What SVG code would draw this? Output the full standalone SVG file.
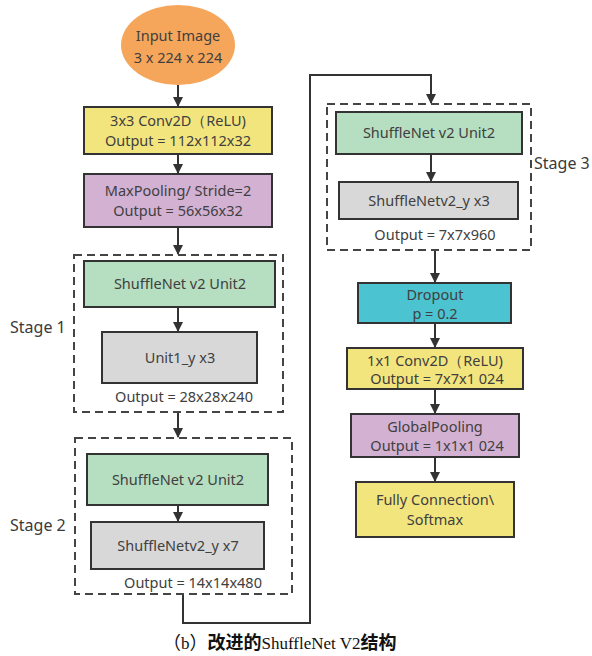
<svg xmlns="http://www.w3.org/2000/svg" width="592" height="656" viewBox="0 0 592 656">
<style>
.b{stroke:#333;stroke-width:2}
.t{font-family:"Noto Sans","Open Sans",sans-serif;font-size:14.5px;fill:#404040;text-anchor:middle}
.s{font-family:"Noto Sans","Open Sans",sans-serif;font-size:16px;fill:#3a3a3a}
.d{fill:none;stroke:#444;stroke-width:2;stroke-dasharray:8,5}
.c{fill:none;stroke:#333;stroke-width:2}
.y{fill:#F3E57E}.p{fill:#D3B1D3}.g{fill:#B6DEC1}.r{fill:#D8D8D8}.k{fill:#4CC3D0}
.cj{font-family:"Noto Sans CJK SC",sans-serif;font-weight:bold;font-size:18px}
</style>
<defs>
<marker id="a" viewBox="0 0 10 10" refX="9" refY="5" markerWidth="5" markerHeight="5" orient="auto" markerUnits="strokeWidth">
<path d="M0,0 L10,5 L0,10 z" fill="#333"/>
</marker>
</defs>
<rect width="592" height="656" fill="#fff"/>
<g id="connectors">
<line class="c" x1="178" y1="85" x2="178" y2="106" marker-end="url(#a)"/>
<line class="c" x1="178" y1="154" x2="178" y2="173" marker-end="url(#a)"/>
<line class="c" x1="178" y1="227" x2="178" y2="254" marker-end="url(#a)"/>
<line class="c" x1="178" y1="307" x2="178" y2="331" marker-end="url(#a)"/>
<line class="c" x1="178" y1="412" x2="178" y2="437" marker-end="url(#a)"/>
<line class="c" x1="178" y1="505" x2="178" y2="521" marker-end="url(#a)"/>
<polyline class="c" points="183,594 183,623 310,623 310,75 431,75 431,103" marker-end="url(#a)"/>
<line class="c" x1="431" y1="154" x2="431" y2="181" marker-end="url(#a)"/>
<line class="c" x1="435" y1="250" x2="435" y2="282" marker-end="url(#a)"/>
<line class="c" x1="435" y1="323" x2="435" y2="347" marker-end="url(#a)"/>
<line class="c" x1="435" y1="389" x2="435" y2="413" marker-end="url(#a)"/>
<line class="c" x1="435" y1="457" x2="435" y2="481" marker-end="url(#a)"/>
</g>
<g id="input">
<ellipse cx="178" cy="45" rx="57" ry="40" fill="#F5A65B"/>
<text class="t" x="178" y="41">Input Image</text>
<text class="t" x="178" y="63">3 x 224 x 224</text>
</g>
<g id="conv1">
<rect class="b y" x="84" y="107" width="188" height="47"/>
<text class="t" x="178" y="126">3x3 Conv2D（ReLU)</text>
<text class="t" x="178" y="146">Output = 112x112x32</text>
</g>
<g id="maxpool">
<rect class="b p" x="84" y="174" width="188" height="53"/>
<text class="t" x="178" y="196">MaxPooling/ Stride=2</text>
<text class="t" x="178" y="216">Output = 56x56x32</text>
</g>
<g id="stage1">
<rect class="d" x="74" y="255" width="209" height="157"/>
<text class="s" x="10" y="333">Stage 1</text>
<rect class="b g" x="84" y="261" width="191" height="46"/>
<text class="t" x="180" y="289">ShuffleNet v2 Unit2</text>
<rect class="b r" x="102" y="332" width="155" height="51"/>
<text class="t" x="180" y="363">Unit1_y x3</text>
<text class="t" x="184" y="402">Output = 28x28x240</text>
</g>
<g id="stage2">
<rect class="d" x="75" y="438" width="217" height="156"/>
<text class="s" x="10" y="531">Stage 2</text>
<rect class="b g" x="87" y="454" width="181" height="51"/>
<text class="t" x="178" y="485">ShuffleNet v2 Unit2</text>
<rect class="b r" x="91" y="522" width="173" height="47"/>
<text class="t" x="178" y="551">ShuffleNetv2_y x7</text>
<text class="t" x="193" y="588">Output = 14x14x480</text>
</g>
<g id="stage3">
<rect class="d" x="327" y="104" width="204" height="146"/>
<text class="s" x="534" y="169">Stage 3</text>
<rect class="b g" x="336" y="112" width="186" height="42"/>
<text class="t" x="429" y="138">ShuffleNet v2 Unit2</text>
<rect class="b r" x="339" y="182" width="179" height="37"/>
<text class="t" x="429" y="206">ShuffleNetv2_y x3</text>
<text class="t" x="435" y="240">Output = 7x7x960</text>
</g>
<g id="dropout">
<rect class="b k" x="358" y="283" width="153" height="40"/>
<text class="t" x="435" y="300">Dropout</text>
<text class="t" x="435" y="319">p = 0.2</text>
</g>
<g id="conv2">
<rect class="b y" x="347" y="348" width="176" height="41"/>
<text class="t" x="435" y="366">1x1 Conv2D（ReLU)</text>
<text class="t" x="437" y="384">Output = 7x7x1 024</text>
</g>
<g id="globalpool">
<rect class="b p" x="351" y="414" width="168" height="43"/>
<text class="t" x="435" y="432">GlobalPooling</text>
<text class="t" x="437" y="451">Output = 1x1x1 024</text>
</g>
<g id="fc">
<rect class="b y" x="356" y="482" width="158" height="55"/>
<text class="t" x="435" y="505">Fully Connection\</text>
<text class="t" x="435" y="525">Softmax</text>
</g>
<text x="163" y="649" style="font-family:'Liberation Serif','Noto Sans CJK SC',serif;font-size:17px;fill:#111"><tspan style="font-family:'Noto Sans CJK SC',sans-serif;font-size:18px">（</tspan>b<tspan style="font-family:'Noto Sans CJK SC',sans-serif;font-size:18px">）</tspan><tspan class="cj">改进的</tspan>ShuffleNet V2<tspan class="cj">结构</tspan></text>
</svg>
